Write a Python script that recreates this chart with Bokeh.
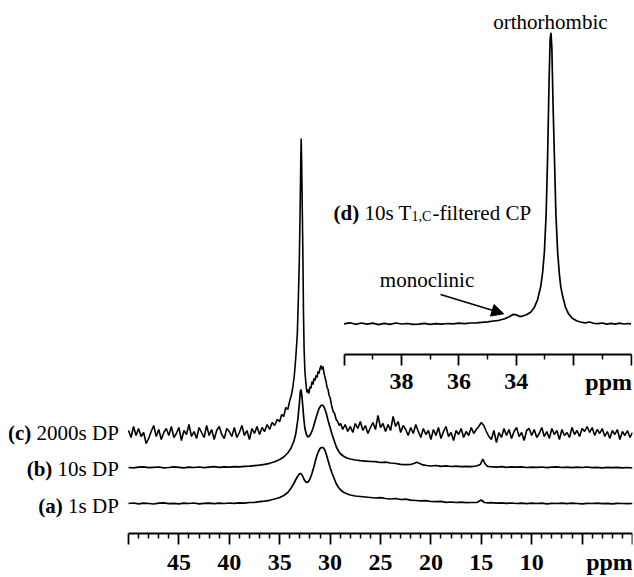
import numpy as np
from bokeh.plotting import figure
from bokeh.models import Range1d, LinearAxis, FixedTicker, Arrow, NormalHead, ColumnDataSource
from bokeh.core.properties import value
from bokeh.embed import file_html
from bokeh.resources import INLINE

# ---------------- data (ppm, intensity in px above each trace's baseline) ----------------
# (a) 1s DP
a_ppm = [50.0,49.5,49.0,48.5,48.0,47.5,47.0,46.5,46.0,45.5,45.0,44.5,44.0,43.5,43.0,42.5,42.0,41.5,41.0,40.5,40.0,39.5,39.0,38.5,38.0,
         37.5,37.0,36.5,36.0,35.5,35.0,
         34.6,34.2,33.9,33.6,33.4,33.2,33.0,32.9,32.75,32.6,32.45,32.3,32.15,32.0,31.8,31.6,31.4,31.2,31.0,30.85,30.7,30.55,30.4,30.2,30.0,29.8,29.6,29.4,29.2,29.0,28.7,28.4,28.0,
         27.5,27.0,26.5,26.0,25.5,25.0,24.5,24.0,23.5,23.0,22.5,22.0,21.5,21.0,20.5,20.0,19.5,19.0,18.5,18.0,17.5,17.0,16.5,16.0,
         15.4,15.0,14.7,14.3,14.0,
         13.5,13.0,12.5,12.0,11.5,11.0,10.5,10.0,9.5,9.0,8.5,8.0,7.5,7.0,6.5,6.0,5.5,5.0,4.5,4.0,3.5,3.0,2.5,2.0,1.5,1.0,0.5,0.0]
a_int = [0.0,0.5,-0.3,0.4,0.0,-0.5,0.3,0.6,-0.2,0.2,-0.4,0.3,0.0,0.5,-0.3,0.2,0.4,-0.2,0.3,0.0,0.5,0.2,0.6,0.4,1.0,
         1.2,1.8,2.4,3.2,4.5,6.0,
         8.0,11.0,15.0,20.0,24.0,27.5,30.0,30.0,28.0,24.5,22.0,21.0,22.0,24.5,30.0,37.0,45.0,51.0,55.0,56.0,56.0,54.0,50.0,43.0,36.0,30.0,25.0,20.0,16.5,14.0,11.5,10.0,8.5,
         7.5,7.0,6.5,6.0,5.5,5.8,5.0,4.5,5.0,4.0,4.3,3.4,3.0,2.6,2.8,2.0,1.8,2.2,1.2,1.5,1.0,1.3,0.8,1.0,
         1.2,3.5,1.0,0.6,0.9,
         0.3,0.7,0.2,0.5,0.0,0.4,-0.2,0.3,0.0,0.4,-0.3,0.2,0.0,0.4,-0.2,0.3,0.0,-0.3,0.2,0.0,0.3,-0.2,0.1,-0.3,0.2,0.0,-0.2,0.0]

# (b) 10s DP
b_ppm = [50.0,49.5,49.0,48.5,48.0,47.5,47.0,46.5,46.0,45.5,45.0,44.5,44.0,43.5,43.0,42.5,42.0,41.5,41.0,40.5,40.0,39.5,39.0,38.5,38.0,
         37.5,37.0,36.5,36.0,35.5,35.0,
         34.6,34.2,33.9,33.6,33.4,33.2,33.05,32.95,32.88,32.8,32.7,32.6,32.5,32.35,32.2,32.05,31.9,31.7,31.5,31.3,31.1,30.9,30.75,30.6,30.4,30.2,30.0,29.8,29.6,29.4,29.2,29.0,28.7,28.4,28.0,
         27.5,27.0,26.5,26.0,25.5,25.0,24.5,24.0,23.5,23.0,22.5,22.0,
         21.7,21.4,21.1,20.8,20.4,20.0,
         19.5,19.0,18.5,18.0,17.5,17.0,16.5,16.0,15.5,
         15.1,14.85,14.65,14.4,14.1,
         13.5,13.0,12.5,12.0,11.5,11.0,10.5,10.0,9.5,9.0,8.5,8.0,7.5,7.0,6.5,6.0,5.5,5.0,4.5,4.0,3.5,3.0,2.5,2.0,1.5,1.0,0.5,0.0]
b_int = [0.0,-0.4,0.3,0.6,-0.2,0.2,0.5,-0.3,0.0,0.6,0.2,-0.4,0.3,0.0,0.5,-0.2,0.4,0.8,0.2,0.6,0.3,0.9,0.7,1.2,1.4,
         1.9,2.4,3.2,4.2,5.8,8.0,
         10.5,14.5,19.0,26.0,34.0,48.0,64.0,76.0,78.0,72.0,60.0,48.0,39.0,33.0,30.5,31.5,34.0,39.0,46.0,53.0,59.0,62.0,62.5,60.5,55.0,47.0,40.0,33.0,27.0,21.0,17.0,14.0,11.5,9.8,8.5,
         7.5,6.8,6.4,6.0,5.8,5.0,5.3,4.5,4.0,3.2,2.8,3.0,
         4.0,5.2,4.0,2.6,2.0,1.5,
         2.0,1.2,1.6,1.0,1.4,0.8,1.2,0.9,1.5,
         3.0,8.5,4.0,1.2,0.8,
         0.4,0.8,0.2,0.6,0.3,0.7,0.0,0.4,0.1,0.5,-0.2,0.3,0.6,0.0,0.4,-0.1,0.3,0.0,0.5,-0.2,0.2,-0.4,0.1,-0.2,0.2,-0.3,0.0,-0.5]

# (c) 2000s DP
c_ppm = [50.0,49.75,49.5,49.25,49.0,48.75,48.5,48.25,48.0,47.75,47.5,47.25,47.0,46.75,46.5,46.25,46.0,45.75,45.5,45.25,
         45.0,44.75,44.5,44.25,44.0,43.75,43.5,43.25,43.0,42.75,42.5,42.25,42.0,41.75,41.5,41.25,41.0,40.75,40.5,40.25,
         40.0,39.75,39.5,39.25,39.0,38.75,38.5,38.25,38.0,37.75,37.5,37.25,37.0,36.75,36.5,36.25,36.0,35.75,35.5,35.25,
         35.0,34.8,34.6,34.4,34.2,34.0,33.85,33.7,33.55,33.45,33.35,33.25,33.15,33.05,32.98,32.92,32.87,32.82,32.76,32.7,
         32.64,32.58,32.5,32.4,32.3,32.2,32.1,32.0,31.9,31.8,31.7,31.6,31.5,31.4,31.3,31.2,31.1,31.0,30.9,30.8,
         30.7,30.6,30.5,30.4,30.3,30.2,30.1,30.0,29.85,29.7,29.55,29.4,29.25,29.1,28.95,
         28.75,28.5,28.25,28.0,27.75,27.5,27.25,27.0,26.75,26.5,26.25,26.0,25.75,25.5,25.25,25.0,24.75,24.5,24.25,24.0,
         23.75,23.5,23.25,23.0,22.75,22.5,22.25,22.0,21.75,21.5,21.25,21.0,20.75,20.5,20.25,20.0,19.75,19.5,19.25,19.0,
         18.75,18.5,18.25,18.0,17.75,17.5,17.25,17.0,16.75,16.5,16.25,16.0,15.75,15.5,15.25,15.0,14.75,14.5,14.25,14.0,
         13.75,13.5,13.25,13.0,12.75,12.5,12.25,12.0,11.75,11.5,11.25,11.0,10.75,10.5,10.25,10.0,9.75,9.5,9.25,9.0,
         8.75,8.5,8.25,8.0,7.75,7.5,7.25,7.0,6.75,6.5,6.25,6.0,5.75,5.5,5.25,5.0,4.75,4.5,4.25,4.0,
         3.75,3.5,3.25,3.0,2.75,2.5,2.25,2.0,1.75,1.5,1.25,1.0,0.75,0.5,0.25,0.0]
c_int = [3,-4,7,-2,5,-3,1,-10,-5,2, 8,-3,4,-6,1,5,-2,7,-4,0,
         6,-7,3,-1,9,-3,2,-5,6,1, -4,8,-2,4,-6,3,7,-1,-5,5,
         2,-3,6,-4,1,8,-2,3,-6,5, 0,7,-1,6,2,9,4,11,8,14,
         12,19,17,26,24,33,38,46,58,70, 84,100,135,175,220,265,295,270,225,180,
         120,85,62,50,41,44,40,47,45,52, 49,55,53,58,56,62,60,65,68,64,
         67,60,56,52,46,44,38,36,28,22, 20,14,12,8,10,
         4,9,2,7,1,10,5,12,3,8, 0,6,11,4,18,6,10,2,9,3,
         17,7,12,1,8,4,-2,6,0,9, 2,-4,5,-1,3,-6,4,-2,6,-5,
         2,7,-3,1,-7,3,-1,5,-4,2, -2,6,0,4,7,11,8,2,-3,-6,
         3,-9,1,-4,5,-2,4,-5,2,6, -3,1,-7,3,5,-2,4,-4,0,6,
         -3,2,-5,5,-1,3,-6,4,-2,1, -4,6,-1,3,-3,5,2,7,1,6,
         -2,4,0,5,-3,2,-5,3,-1,4, -6,2,-2,3,-4,1]

# (d) 10s T1,C-filtered CP (inset)
d_ppm = [40.0,39.8,39.6,39.4,39.2,39.0,38.8,38.6,38.4,38.2, 38.0,37.8,37.6,37.4,37.2,37.0,36.8,36.6,36.4,36.2,
         36.0,35.8,35.6,35.4,35.2,35.0,34.8,34.6,34.4,34.25, 34.1,34.0,33.9,33.8,33.65,33.5,33.38,33.26,33.15,33.08,
         33.02,32.96,32.91,32.86,32.82,32.79,32.76,32.72,32.67,32.62, 32.56,32.5,32.45,32.38,32.29,32.18,32.05,31.9,31.77,31.6,
         31.45,31.3,31.15,31.0,30.85,30.7,30.55,30.4,30.25,30.1, 30.0]
d_int = [0.0,1.0,-0.5,0.8,-0.3,0.6,-0.8,0.4,-0.5,0.8, -0.2,0.3,-0.6,-0.3,0.4,-0.5,0.2,-0.4,0.3,0.0,
         0.6,0.2,0.8,1.0,1.5,2.0,2.8,3.5,5.0,7.0, 9.5,9.0,7.5,7.5,9.0,11.5,16.0,24.0,37.0,52.0,
         72.0,110.0,165.0,240.0,285.0,291.0,275.0,220.0,165.0,110.0, 72.0,50.0,37.0,27.0,17.0,10.0,5.5,3.0,1.8,1.0,
         1.8,0.5,0.2,0.8,-0.3,0.5,-0.4,0.6,-0.2,0.3, -0.1]

# axis ticks
main_ticks = [50, 45, 40, 35, 30, 25, 20, 15, 10, 5, 0]
main_tick_labels = ["", "45", "40", "35", "30", "25", "20", "15", "10", "", ""]
main_minor = [t for t in range(0, 51) if t % 5]
inset_ticks = [40, 38, 36, 34, 32, 30]
inset_tick_labels = ["", "38", "36", "34", "", ""]
inset_minor = [39, 37, 35, 33, 31]

trace_labels_bold = ["(c)", "(b)", "(a)"]
trace_labels_rest = ["2000s DP", "10s DP", "1s DP"]

# ---------------- layout constants (pixels above main axis) ----------------
OFF_A, OFF_B, OFF_C = 30.0, 66.0, 100.0
OFF_D = 209.7
INSET_AXIS_Y = 178.7
TXT_SHIFT = 8.0
SERIF = "Liberation Serif"

p = figure(width=634, height=576, output_backend="svg", toolbar_location=None,
           x_range=Range1d(61.905, 0.0), y_range=Range1d(-43, 523),
           x_axis_location=None, y_axis_location=None,
           min_border_left=8, min_border_right=2, min_border_top=10, min_border_bottom=0)
p.extra_x_ranges = {"inset": Range1d(51.693, 29.951)}
p.outline_line_color = None
p.background_fill_color = "white"
p.border_fill_color = "white"
p.xgrid.visible = False
p.ygrid.visible = False


def style_axis(ax, standoff):
    ax.axis_line_width = 1.8
    ax.axis_line_color = "black"
    ax.major_tick_line_width = 1.8
    ax.minor_tick_line_width = 1.5
    ax.major_tick_in = 0
    ax.major_tick_out = 11
    ax.minor_tick_in = 0
    ax.minor_tick_out = 5
    ax.major_label_text_font = SERIF
    ax.major_label_text_font_style = "bold"
    ax.major_label_text_font_size = "24px"
    ax.major_label_text_color = "black"
    ax.major_label_standoff = standoff


ax_main = LinearAxis(ticker=FixedTicker(ticks=main_ticks, minor_ticks=main_minor),
                     bounds=(0, 50), fixed_location=0,
                     major_label_overrides=dict(zip(main_ticks, main_tick_labels)))
style_axis(ax_main, 10)
p.add_layout(ax_main, "below")

ax_main_unit = LinearAxis(ticker=FixedTicker(ticks=[2.28], minor_ticks=[]), fixed_location=0,
                          major_label_overrides={2.28: "ppm"})
style_axis(ax_main_unit, 4)
ax_main_unit.axis_line_color = None
ax_main_unit.major_tick_line_color = None
ax_main_unit.minor_tick_line_color = None
p.add_layout(ax_main_unit, "below")

ax_in = LinearAxis(x_range_name="inset",
                   ticker=FixedTicker(ticks=inset_ticks, minor_ticks=inset_minor),
                   bounds=(30, 40), fixed_location=INSET_AXIS_Y,
                   major_label_overrides=dict(zip(inset_ticks, inset_tick_labels)))
style_axis(ax_in, 8)
p.add_layout(ax_in, "below")

ax_in_unit = LinearAxis(x_range_name="inset", ticker=FixedTicker(ticks=[30.78], minor_ticks=[]),
                        fixed_location=INSET_AXIS_Y, major_label_overrides={30.78: "ppm"})
style_axis(ax_in_unit, 3)
ax_in_unit.axis_line_color = None
ax_in_unit.major_tick_line_color = None
ax_in_unit.minor_tick_line_color = None
p.add_layout(ax_in_unit, "below")

# spectra
for xs, ys, off, lw in [(a_ppm, a_int, OFF_A, 1.7), (b_ppm, b_int, OFF_B, 1.7), (c_ppm, c_int, OFF_C, 1.6)]:
    p.line(x=xs, y=list(np.asarray(ys, dtype=float) + off), line_color="black", line_width=lw)

p.line(x=d_ppm, y=list(np.asarray(d_int, dtype=float) + OFF_D), line_color="black", line_width=1.7,
       x_range_name="inset")

# trace labels (left)
lab_src = ColumnDataSource(dict(
    x=[50.96] * 3, y=[92.3 + TXT_SHIFT, 56.3 + TXT_SHIFT, 19.7 + TXT_SHIFT],
    rest=trace_labels_rest, bold=trace_labels_bold, dx=[-87.5, -66.5, -56.0]))
p.text(x="x", y="y", text="rest", source=lab_src, text_align="right", text_baseline="alphabetic",
       text_font=value(SERIF), text_font_size="21px", text_color="black")
p.text(x="x", y="y", text="bold", source=lab_src, x_offset="dx", text_align="right", text_baseline="alphabetic",
       text_font=value(SERIF), text_font_size="21px", text_font_style="bold", text_color="black")

# inset title
t_src = ColumnDataSource(dict(x=[40.369] * 3, y=[312.3 + TXT_SHIFT] * 3,
                              t=["(d)", "10s T", "-filtered CP"], dx=[0, 31, 99],
                              st=["bold", "normal", "normal"]))
p.text(x="x", y="y", text="t", x_offset="dx", text_font_style="st", source=t_src, x_range_name="inset",
       text_align="left", text_baseline="alphabetic", text_font=value(SERIF), text_font_size="21px",
       text_color="black")
p.text(x=[40.369], y=[309.5 + TXT_SHIFT], text=["1,C"], x_offset=[78], x_range_name="inset",
       text_align="left", text_baseline="alphabetic", text_font=value(SERIF), text_font_size="14px",
       text_color="black")

# annotations
p.text(x=[38.756], y=[245.7 + TXT_SHIFT], text=["monoclinic"], x_range_name="inset", text_align="left",
       text_baseline="alphabetic", text_font=value(SERIF), text_font_size="21px", text_color="black")
p.text(x=[32.81], y=[503.7 + TXT_SHIFT], text=["orthorhombic"], x_range_name="inset", text_align="center",
       text_baseline="alphabetic", text_font=value(SERIF), text_font_size="21px", text_color="black")

p.add_layout(Arrow(end=NormalHead(size=12, fill_color="black", line_color="black", line_width=1),
                   x_start=36.64, y_start=239.0, x_end=34.436, y_end=219.7,
                   line_color="black", line_width=1.5, x_range_name="inset"))

open("out.html", "w").write(file_html(p, INLINE))
